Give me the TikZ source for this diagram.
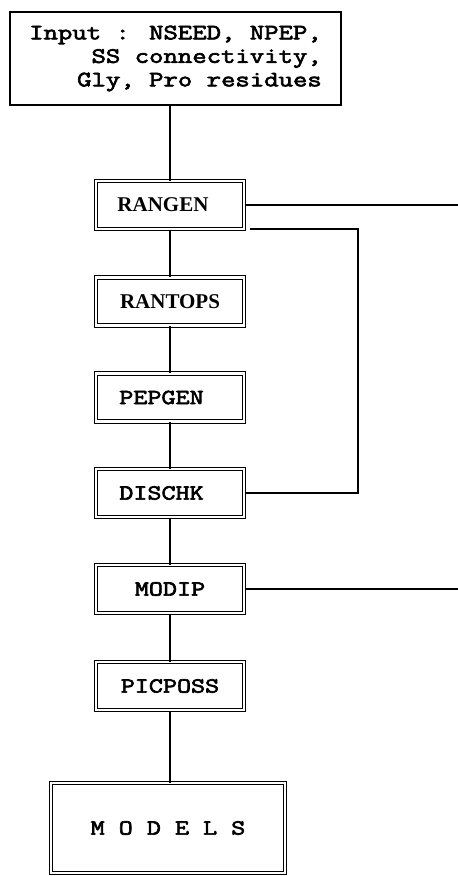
\documentclass[tikz,border=0pt]{standalone}
\usepackage{fontspec}
\setmainfont{Liberation Serif}
\newfontfamily\cour{Latin Modern Mono}[FakeStretch=1.27, FakeBold=3]
\begin{document}
\begin{tikzpicture}[x=1bp,y=-1bp, line width=1.1bp,
  dbox/.style={draw, double, double distance=2.4bp, line width=1bp,
    minimum width=148bp, minimum height=48bp, inner sep=0pt,
    font=\cour\fontsize{21.5bp}{21.5bp}\selectfont},
  sbox/.style={dbox, font=\rmfamily\bfseries\fontsize{21bp}{21bp}\selectfont},
  conn/.style={draw, line width=1.1bp}
]
\useasboundingbox (0,0) rectangle (458,876);
\node[draw, line width=1.1bp, minimum width=331bp, minimum height=93bp, inner sep=0pt,
  align=right, font=\cour\fontsize{22bp}{23.5bp}\selectfont]
  (input) at (175.5,58.5) {Input : NSEED, NPEP,\\SS connectivity,\\Gly, Pro residues};

\node[sbox] (rangen)  at (170,205)   {RANGEN\kern14bp};
\node[sbox] (rantops) at (170,301.5) {RANTOPS};
\node[dbox] (pepgen)  at (170,397.5) {PEPGEN\kern17bp};
\node[dbox] (dischk)  at (170,493)   {DISCHK\kern17bp};
\node[dbox] (modip)   at (170,589)   {MODIP};
\node[dbox] (picposs) at (170,686)   {PICPOSS};
\node[dbox, minimum width=234bp, minimum height=90bp] (models) at (168,828) {M O D E L S};

\path[conn] (input.south -| rangen.north) -- (rangen.north);
\path[conn] (rangen.south) -- (rantops.north);
\path[conn] (rantops.south) -- (pepgen.north);
\path[conn] (pepgen.south) -- (dischk.north);
\path[conn] (dischk.south) -- (modip.north);
\path[conn] (modip.south) -- (picposs.north);
\path[conn] (picposs.south) -- (picposs.south |- models.north);

\coordinate (r1) at (458,205);
\coordinate (r2) at (458,590);
\path[conn] (rangen.east) -- (r1 |- rangen.east);
\path[conn] (modip.east) -- (r2 |- modip.east);

\coordinate (fb) at (250,229);
\coordinate (fbc) at (358,229);
\path[conn] (dischk.east) -| (fbc) -- (fb);
\end{tikzpicture}
\end{document}
